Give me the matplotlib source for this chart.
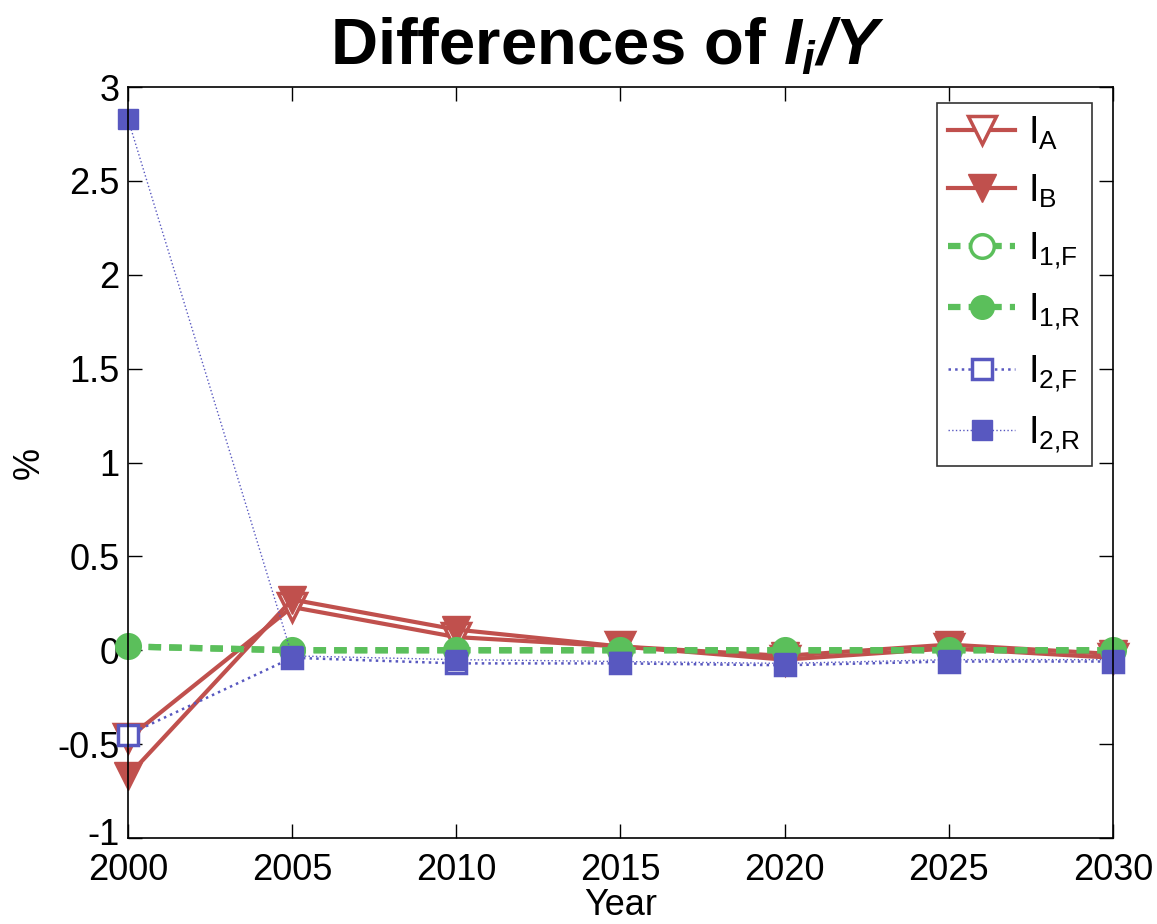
import matplotlib
matplotlib.use("Agg")
import matplotlib.pyplot as plt
import matplotlib.transforms as mtransforms

plt.rcParams['font.family'] = ['Liberation Sans', 'DejaVu Sans']
plt.rcParams['mathtext.fontset'] = 'custom'
plt.rcParams['mathtext.rm'] = 'Liberation Sans'
plt.rcParams['mathtext.it'] = 'Liberation Sans:italic'
plt.rcParams['mathtext.bf'] = 'Liberation Sans:bold'
plt.rcParams['mathtext.bfit'] = 'Liberation Sans:italic:bold'

years = [2000, 2005, 2010, 2015, 2020, 2025, 2030]
I_A = [-0.47, 0.23, 0.07, 0.02, -0.05, 0.01, -0.04]
I_B = [-0.67, 0.27, 0.11, 0.02, -0.03, 0.03, -0.02]
I_1F = [0.02, 0.00, 0.00, 0.00, 0.00, 0.00, 0.00]
I_1R = [0.02, 0.00, 0.00, 0.00, 0.00, 0.00, 0.00]
I_2F = [-0.45, -0.04, -0.07, -0.07, -0.08, -0.06, -0.06]
I_2R = [2.83, -0.03, -0.05, -0.06, -0.07, -0.05, -0.05]

labels = [r'$\mathrm{I_A}$', r'$\mathrm{I_B}$', r'$\mathrm{I_{1{,}F}}$',
          r'$\mathrm{I_{1{,}R}}$', r'$\mathrm{I_{2{,}F}}$', r'$\mathrm{I_{2{,}R}}$']
xticks = [2000, 2005, 2010, 2015, 2020, 2025, 2030]
yticks = [-1, -0.5, 0, 0.5, 1, 1.5, 2, 2.5, 3]
yticklabels = ['-1', '-0.5', '0', '0.5', '1', '1.5', '2', '2.5', '3']

red = '#c0504d'
green = '#5bbf5b'
blue = '#5858c0'

fig = plt.figure(figsize=(11.57, 9.24), dpi=100)
ax = fig.add_axes([0.1106, 0.0931, 0.8514, 0.8127])

common = dict(clip_on=False)
ax.plot(years, I_A, color=red, lw=3, ls='-', marker='v', ms=20,
        mfc='white', mec=red, mew=2.5, label=labels[0], **common)
ax.plot(years, I_B, color=red, lw=3, ls='-', marker='v', ms=20,
        mfc=red, mec=red, label=labels[1], **common)
ax.plot(years, I_1F, color=green, lw=4.5, ls=(0, (2, 1.3)), marker='o', ms=17,
        mfc='white', mec=green, mew=2.5, label=labels[2], **common)
ax.plot(years, I_1R, color=green, lw=4.5, ls=(0, (2, 1.3)), marker='o', ms=17,
        mfc=green, mec=green, label=labels[3], **common)
ax.plot(years, I_2F, color=blue, lw=1.8, ls=':', marker='s', ms=14,
        mfc='white', mec=blue, mew=2.5, label=labels[4], **common)
ax.plot(years, I_2R, color=blue, lw=1.0, ls=':', marker='s', ms=15,
        mfc=blue, mec=blue, label=labels[5], **common)

ax.set_xlim(2000, 2030)
ax.set_ylim(-1, 3)
ax.set_xticks(xticks)
ax.set_xticklabels([str(x) for x in xticks])
ax.set_yticks(yticks)
ax.set_yticklabels(yticklabels)
ax.tick_params(direction='in', length=10, width=1, labelsize=26,
               top=True, right=True, pad=6)
ax.tick_params(axis='x', pad=11)
for s in ax.spines.values():
    s.set_linewidth(1.2)

# nudge the bottom y tick label up a little so it does not collide with "2000"
lab0 = ax.get_yticklabels()[0]
lab0.set_transform(lab0.get_transform() +
                   mtransforms.ScaledTranslation(0, 6 / 100, fig.dpi_scale_trans))

ax.set_xlabel('Year', fontsize=26, labelpad=0)
ax.set_ylabel('%', fontsize=26, labelpad=8)
ax.set_title(r'Differences of $\mathbfit{I_i/Y}$', fontsize=47,
             fontweight='bold', pad=16, x=0.487)

leg = ax.legend(loc='upper right', fontsize=27, frameon=True, fancybox=False,
                edgecolor='black', labelspacing=0.55, handlelength=1.8,
                borderpad=0.3, handletextpad=0.35, borderaxespad=0,
                bbox_to_anchor=(0.9787, 0.9787))
leg.get_frame().set_linewidth(1.2)

fig.savefig('out.png', dpi=100, facecolor='white')
